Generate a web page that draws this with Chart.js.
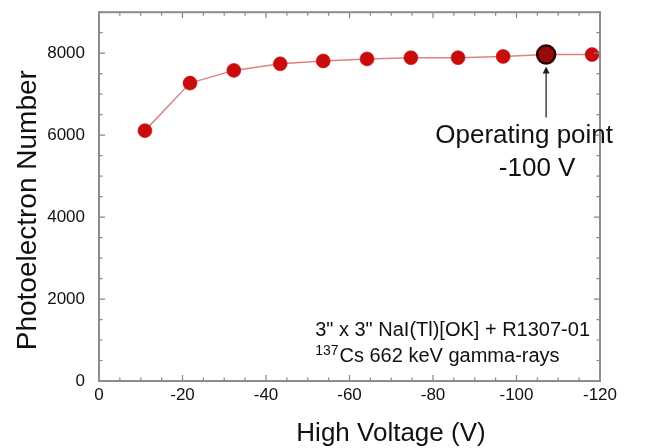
<!DOCTYPE html>
<html>
<head>
<meta charset="utf-8">
<script src="https://cdn.jsdelivr.net/npm/chart.js@4"></script>
<style>
  html, body { margin: 0; padding: 0; background: #fff; }
  canvas { display: block; }
</style>
</head>
<body>
<canvas id="grafico" width="653" height="448"></canvas>
<script>
"use strict"

// datos (posiciones x tal como aparecen en la figura)
const voltajes = [-11, -21.8, -32.3, -43.4, -53.7, -64.2, -74.7, -86, -96.8, -107.1, -118.1];
const fotoelectrones = [6110, 7270, 7580, 7740, 7810, 7860, 7890, 7890, 7920, 7970, 7965];
const indiceOperacion = 9;
const xTicksMayores = [0, -20, -40, -60, -80, -100, -120];
const yTicksMayores = [0, 2000, 4000, 6000, 8000];
const tituloX = 'High Voltage (V)';
const tituloY = 'Photoelectron Number';
const textoOperacion = ['Operating point', '-100 V'];
const notaLinea1 = '3" x 3" NaI(Tl)[OK] + R1307-01';
const notaIsotopo = '137';
const notaLinea2 = 'Cs 662 keV gamma-rays';

const FUENTE = '"Liberation Sans", Arial, sans-serif';
const GRIS = '#858585';

// marco con ticks hacia dentro en los cuatro lados + titulos + anotaciones
const marcoPlugin = {
    id: 'marco',
    afterDatasetsDraw(chart) {
        const { ctx, chartArea: a, scales } = chart;
        const xs = scales.x, ys = scales.y;
        ctx.save();
        ctx.strokeStyle = GRIS;
        ctx.lineWidth = 1.2;
        xs.ticks.forEach(t => {
            const px = xs.getPixelForValue(t.value);
            const len = xTicksMayores.includes(t.value) ? 6 : 3.5;
            ctx.beginPath();
            ctx.moveTo(px, a.bottom); ctx.lineTo(px, a.bottom - len);
            ctx.moveTo(px, a.top); ctx.lineTo(px, a.top + len);
            ctx.stroke();
        });
        ys.ticks.forEach(t => {
            const py = ys.getPixelForValue(t.value);
            const len = yTicksMayores.includes(t.value) ? 6 : 3.5;
            ctx.beginPath();
            ctx.moveTo(a.left, py); ctx.lineTo(a.left + len, py);
            ctx.moveTo(a.right, py); ctx.lineTo(a.right - len, py);
            ctx.stroke();
        });
        ctx.lineWidth = 2;
        ctx.strokeStyle = '#8c8c8c';
        ctx.strokeRect(a.left, a.top, a.right - a.left, a.bottom - a.top);

        // titulos de ejes
        ctx.fillStyle = '#111';
        ctx.textBaseline = 'alphabetic';
        ctx.textAlign = 'center';
        ctx.font = '26px ' + FUENTE;
        ctx.fillText(tituloX, a.left + 292, a.bottom + 60);
        ctx.save();
        ctx.translate(a.left - 63, a.top + 198);
        ctx.rotate(-Math.PI / 2);
        ctx.font = '28px ' + FUENTE;
        ctx.fillText(tituloY, 0, 0);
        ctx.restore();

        // flecha del punto de operacion
        const px = xs.getPixelForValue(voltajes[indiceOperacion]);
        const py = ys.getPixelForValue(fotoelectrones[indiceOperacion]);
        ctx.strokeStyle = '#444';
        ctx.fillStyle = '#222';
        ctx.lineWidth = 1.5;
        ctx.beginPath();
        ctx.moveTo(px, py + 63); ctx.lineTo(px, py + 17);
        ctx.stroke();
        ctx.beginPath();
        ctx.moveTo(px, py + 12); ctx.lineTo(px - 3.5, py + 19); ctx.lineTo(px + 3.5, py + 19);
        ctx.closePath(); ctx.fill();

        ctx.fillStyle = '#111';
        ctx.font = '26px ' + FUENTE;
        ctx.fillText(textoOperacion[0], px - 22, py + 89);
        ctx.fillText(textoOperacion[1], px - 9, py + 122);

        // nota abajo a la derecha
        ctx.textAlign = 'left';
        ctx.font = '20px ' + FUENTE;
        const w1 = ctx.measureText(notaLinea1).width;
        const x0 = a.right - 10 - w1;
        ctx.fillText(notaLinea1, x0, a.bottom - 45);
        ctx.font = '14px ' + FUENTE;
        ctx.fillText(notaIsotopo, x0, a.bottom - 26);
        const wIso = ctx.measureText(notaIsotopo).width;
        ctx.font = '20px ' + FUENTE;
        ctx.fillText(notaLinea2, x0 + wIso + 1, a.bottom - 19);
        ctx.restore();
    }
};

const puntos = voltajes.map((v, i) => ({ x: v, y: fotoelectrones[i] }));
const esOperacion = c => c.dataIndex === indiceOperacion;

new Chart(document.getElementById('grafico'), {
    type: 'line',
    data: {
        datasets: [{
            data: puntos,
            borderColor: 'rgba(205, 80, 80, 0.7)',
            borderWidth: 1.5,
            tension: 0,
            pointRadius: c => esOperacion(c) ? 9 : 7,
            pointBackgroundColor: c => esOperacion(c) ? '#9a0a0a' : '#c80c0c',
            pointBorderColor: c => esOperacion(c) ? '#2a0000' : 'rgba(200, 20, 20, 0.6)',
            pointBorderWidth: c => esOperacion(c) ? 2.5 : 1
        }]
    },
    options: {
        responsive: false,
        animation: false,
        layout: { autoPadding: false, padding: { top: 0, right: 53, left: 0, bottom: 0 } },
        plugins: { legend: { display: false }, tooltip: { enabled: false } },
        scales: {
            x: {
                type: 'linear',
                min: -120,
                max: 0,
                reverse: true,
                grid: { display: false, drawTicks: false },
                border: { display: false },
                afterFit: s => { s.height = 67; },
                ticks: {
                    stepSize: 5,
                    autoSkip: false,
                    maxRotation: 0,
                    padding: 4,
                    color: '#111',
                    font: { family: FUENTE, size: 17 },
                    callback: v => xTicksMayores.includes(v) ? String(v) : ''
                }
            },
            y: {
                min: 0,
                max: 9000,
                grid: { display: false, drawTicks: true, tickLength: 12 },
                border: { display: false },
                afterFit: s => { s.width = 99; },
                ticks: {
                    stepSize: 500,
                    autoSkip: false,
                    padding: 2,
                    color: '#111',
                    font: { family: FUENTE, size: 17 },
                    callback: v => yTicksMayores.includes(v) ? String(v) : ''
                }
            }
        }
    },
    plugins: [marcoPlugin]
});
</script>
</body>
</html>
